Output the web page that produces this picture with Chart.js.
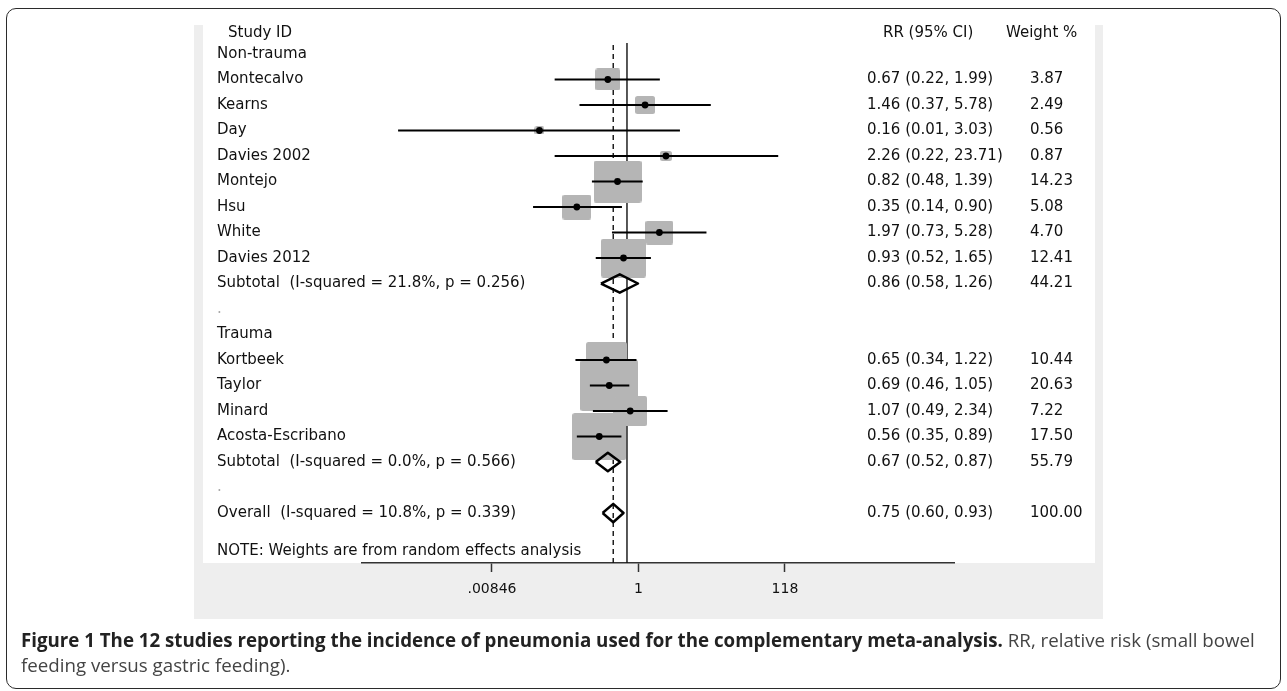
<!DOCTYPE html>
<html><head><meta charset="utf-8">
<script src="https://cdn.jsdelivr.net/npm/chart.js@4.4.1/dist/chart.umd.min.js"></script>
<style>
html,body{margin:0;padding:0;background:#fff;}
body{width:1287px;height:691px;position:relative;overflow:hidden;}
#frame{position:absolute;left:6px;top:8px;width:1275px;height:681px;border:1.5px solid #2b2b2b;border-radius:10px;box-sizing:border-box;}
#graph{position:absolute;left:194px;top:25px;width:909px;height:594px;background:#eeeeee;}
#plot{position:absolute;left:203px;top:25px;width:892px;height:538px;background:#fff;}
#wrap{position:absolute;left:0;top:0;width:1287px;height:691px;}
#caption{position:absolute;left:21px;top:627px;font-family:'Open Sans',sans-serif;font-size:16px;line-height:25px;color:#444;white-space:nowrap;}
#caption b{color:#222;font-weight:700;}
</style></head>
<body>
<div id="frame"></div><div id="graph"></div><div id="plot"></div>
<div id="wrap"><canvas id="c" width="1287" height="691"></canvas></div>
<div id="caption"><span id="l1"><b>Figure 1 The 12 studies reporting the incidence of pneumonia used for the complementary meta-analysis.</b> RR, relative risk (small bowel</span><br><span>feeding versus gastric feeding).</span></div>
<script>
// ---------- data ----------
const rowLabels = ['Non-trauma','Montecalvo','Kearns','Day','Davies 2002','Montejo','Hsu','White','Davies 2012',
  'Subtotal  (I-squared = 21.8%, p = 0.256)','.','Trauma','Kortbeek','Taylor','Minard','Acosta-Escribano',
  'Subtotal  (I-squared = 0.0%, p = 0.566)','.','Overall  (I-squared = 10.8%, p = 0.339)',
  'NOTE: Weights are from random effects analysis'];
const rowPos = [0,1,2,3,4,5,6,7,8,9,10,11,12,13,14,15,16,17,18,19.5];
const headers = ['Study ID','RR (95% CI)','Weight %'];

const studyRows = [1,2,3,4,5,6,7,8,12,13,14,15];
const studyRR = [0.67,1.46,0.16,2.26,0.82,0.35,1.97,0.93,0.65,0.69,1.07,0.56];
const studyLo = [0.22,0.37,0.0083,0.22,0.48,0.14,0.73,0.52,0.34,0.46,0.49,0.35];
const studyHi = [1.99,5.78,3.03,23.71,1.39,0.90,5.28,1.65,1.22,1.05,2.34,0.89];
const studyWeight = [3.87,2.49,0.56,0.87,14.23,5.08,4.70,12.41,10.44,20.63,7.22,17.50];

const pooledRows = [9,16,18];
const pooledRR = [0.86,0.67,0.75];
const pooledLo = [0.58,0.52,0.60];
const pooledHi = [1.26,0.87,0.93];
const pooledWeight = [44.21,55.79,100.00];

const tickValues = [0.00846,1,118];
const tickLabels = ['.00846','1','118'];

// ---------- layout constants ----------
const Y_MIN = -1.137, Y_MAX = 19.96;
const HEADER_ROW = -0.82;
const X_MIN = Math.pow(10,-2.409), X_MAX = Math.pow(10,2.973);
const XT_MIN = Math.pow(10,-3.9115), XT_MAX = Math.pow(10,4.4631);
const BOX_W = 12.8, BOX_H = 11.2, DIAMOND_H = 0.36;
const FONT = '"DejaVu Sans"';
const LABEL_AXIS_W = 145;

// caption fit
(function(){
  const l1 = document.getElementById('l1');
  const w = l1.getBoundingClientRect().width;
  document.getElementById('caption').style.fontSize = (16*1235/w).toFixed(2)+'px';
})();

function boxImg(w){
  const c = document.createElement('canvas');
  const bw = Math.max(2,Math.round(BOX_W*Math.sqrt(w))), bh = Math.max(2,Math.round(BOX_H*Math.sqrt(w)));
  c.width = bw; c.height = bh;
  const g = c.getContext('2d');
  g.fillStyle = '#b5b5b5';
  g.beginPath();
  g.roundRect(0,0,bw,bh,Math.min(2.5,bw/4));
  g.fill();
  return c;
}

const datasets = [];
// reference lines
datasets.push({data:[{x:1,y:-0.43},{x:1,y:Y_MAX}],showLine:true,borderColor:'#111',borderWidth:1.4,pointRadius:0,order:10});
datasets.push({data:[{x:pooledRR[2],y:-0.35},{x:pooledRR[2],y:Y_MAX}],showLine:true,borderColor:'#111',borderWidth:1.4,borderDash:[5,4],pointRadius:0,order:10});
// weight boxes
datasets.push({data:studyRR.map((v,i)=>({x:v,y:studyRows[i]})),pointStyle:studyWeight.map(boxImg),pointRadius:5,order:8});
// confidence intervals
studyRR.forEach((v,i)=>{
  datasets.push({data:[{x:studyLo[i],y:studyRows[i]},{x:studyHi[i],y:studyRows[i]}],showLine:true,borderColor:'#000',borderWidth:2,pointRadius:0,order:6});
});
// point estimates
datasets.push({data:studyRR.map((v,i)=>({x:v,y:studyRows[i]})),pointRadius:3.4,pointBackgroundColor:'#000',pointBorderWidth:0,order:4});
// diamonds
pooledRR.forEach((v,i)=>{
  const r = pooledRows[i];
  datasets.push({data:[{x:pooledLo[i],y:r},{x:v,y:r-DIAMOND_H},{x:pooledHi[i],y:r},{x:v,y:r+DIAMOND_H},{x:pooledLo[i],y:r}],
    showLine:true,borderColor:'#000',borderWidth:2.5,borderJoinStyle:'round',fill:false,pointRadius:0,order:2});
});

const textCols = {
  id:'textCols',
  afterDraw(chart){
    const {ctx, chartArea, scales:{y}} = chart;
    ctx.save();
    ctx.font = '15px '+FONT; ctx.fillStyle = '#111'; ctx.textBaseline = 'middle'; ctx.textAlign = 'left';
    const hy = y.getPixelForValue(HEADER_ROW);
    ctx.fillText(headers[0], 228, hy);
    ctx.fillText(headers[1], chartArea.right - 71, hy);
    ctx.fillText(headers[2], chartArea.right + 52, hy);
    const put = (rr,lo,hi,w,row)=>{
      const py = y.getPixelForValue(row);
      ctx.fillText(rr.toFixed(2)+' ('+lo.toFixed(2)+', '+hi.toFixed(2)+')', chartArea.right - 87, py);
      ctx.fillText(w.toFixed(2), chartArea.right + 76, py);
    };
    studyRR.forEach((v,i)=>put(v,studyLo[i],studyHi[i],studyWeight[i],studyRows[i]));
    pooledRR.forEach((v,i)=>put(v,pooledLo[i],pooledHi[i],pooledWeight[i],pooledRows[i]));
    ctx.restore();
  }
};

new Chart(document.getElementById('c'),{
  type:'scatter',
  data:{datasets},
  options:{
    responsive:false, animation:false, devicePixelRatio:1,
    layout:{padding:{left:217,right:333,top:25,bottom:88}},
    plugins:{legend:{display:false},tooltip:{enabled:false}},
    scales:{
      x:{type:'logarithmic',display:false,min:X_MIN,max:X_MAX},
      xt:{type:'logarithmic',position:'bottom',min:XT_MIN,max:XT_MAX,
        afterBuildTicks:s=>{s.ticks = tickValues.map(v=>({value:v}));},
        afterFit:s=>{s.height = 40;},
        grid:{drawOnChartArea:false,drawTicks:true,tickLength:9,tickColor:'#333',tickWidth:1.5},
        border:{display:true,color:'#333',width:1.5},
        ticks:{autoSkip:false,maxRotation:0,padding:9,font:{family:FONT,size:14},color:'#111',
          callback:(v,i)=>tickLabels[i]}
      },
      y:{type:'linear',position:'left',reverse:true,min:Y_MIN,max:Y_MAX,
        afterBuildTicks:s=>{s.ticks = rowPos.map(v=>({value:v}));},
        afterFit:s=>{s.width = LABEL_AXIS_W;},
        grid:{display:false,drawTicks:false,tickLength:0},border:{display:false},
        ticks:{mirror:true,padding:-LABEL_AXIS_W,autoSkip:false,font:{family:FONT,size:15},
          color:c=>rowLabels[c.index]==='.'?'#aaaaaa':'#111',
          callback:(v,i)=>rowLabels[i]}
      }
    }
  },
  plugins:[textCols]
});
</script>
</body></html>
